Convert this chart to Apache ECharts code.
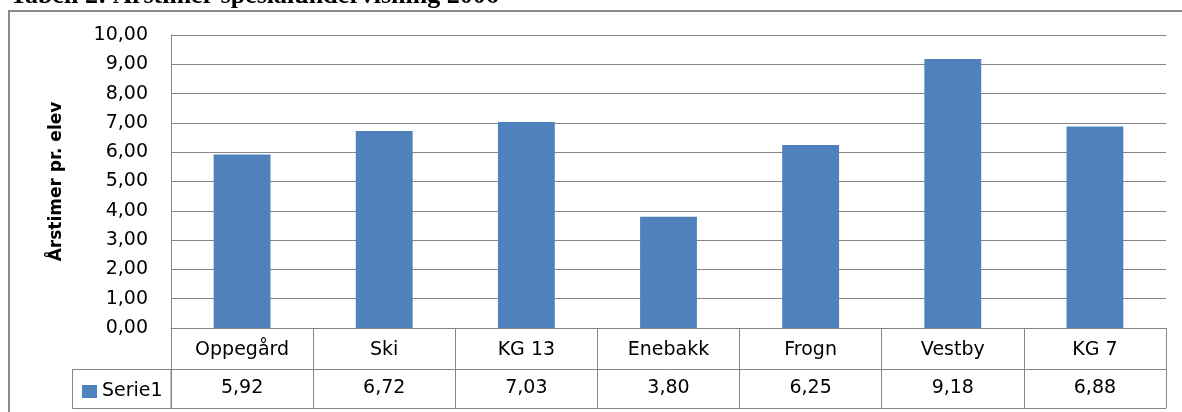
<!DOCTYPE html>
<html>
<head>
<meta charset="utf-8">
<script src="https://cdn.jsdelivr.net/npm/echarts@6/dist/echarts.min.js"></script>
<style>
  html, body { margin: 0; padding: 0; background: #fff; }
  #main { width: 1182px; height: 412px; }
</style>
</head>
<body>
<div id="main"></div>
<script>
var categories = ['Oppegård', 'Ski', 'KG 13', 'Enebakk', 'Frogn', 'Vestby', 'KG 7'];
var values = [5.92, 6.72, 7.03, 3.80, 6.25, 9.18, 6.88];
var seriesName = 'Serie1';
var yMin = 0;
var yMax = 10;
var yStep = 1;

function comma(v) {
    return v.toFixed(2).replace('.', ',');
}

var valueLabels = values.map(comma);

var chart = echarts.init(document.getElementById('main'));

var gridLine = '#868686';
var font = '"DejaVu Sans", sans-serif';

var option = {
    animation: false,
    backgroundColor: '#fff',
    grid: {
        left: 171,
        right: 16,
        top: 35,
        bottom: 84
    },
    legend: {
        data: [seriesName],
        left: 77,
        top: 377,
        icon: 'rect',
        itemWidth: 15,
        itemHeight: 13,
        textStyle: { fontFamily: font, fontSize: 19, color: '#000' }
    },
    xAxis: [{
        type: 'category',
        data: categories,
        position: 'bottom',
        axisLine: { show: true, lineStyle: { color: gridLine, width: 1 } },
        axisTick: { show: true, length: 80, alignWithLabel: false, interval: 0, lineStyle: { color: gridLine } },
        axisLabel: { interval: 0, margin: 13, fontFamily: font, fontSize: 19, color: '#000' }
    }, {
        type: 'category',
        data: valueLabels,
        position: 'bottom',
        offset: 41,
        axisLine: { show: true, lineStyle: { color: gridLine, width: 1 } },
        axisTick: { show: false },
        axisLabel: { interval: 0, margin: 10, fontFamily: font, fontSize: 19, color: '#000' }
    }, {
        type: 'category',
        data: categories,
        position: 'bottom',
        offset: 80,
        axisLine: { show: true, lineStyle: { color: gridLine, width: 1 } },
        axisTick: { show: false },
        axisLabel: { show: false }
    }],
    yAxis: {
        type: 'value',
        min: yMin,
        max: yMax,
        interval: yStep,
        name: 'Årstimer pr. elev',
        nameLocation: 'middle',
        nameRotate: 90,
        nameGap: 106,
        nameTextStyle: { fontFamily: font, fontSize: 17, fontWeight: 'bold', color: '#000' },
        axisLine: { show: true, lineStyle: { color: gridLine, width: 1 } },
        axisTick: { show: false },
        splitLine: { show: true, lineStyle: { color: gridLine, width: 1 } },
        axisLabel: {
            margin: 23,
            fontFamily: font,
            fontSize: 19,
            color: '#000',
            formatter: function (v) { return comma(v); }
        }
    },
    series: [{
        name: seriesName,
        type: 'bar',
        data: values,
        barWidth: '40%',
        itemStyle: { color: '#4f81bd' }
    }],
    graphic: [{
        // page caption, cut off at the top of the picture
        type: 'text',
        left: 10,
        top: -17,
        style: {
            text: 'Tabell 2: Årstimer spesialundervisning 2006',
            font: 'bold 26px "Liberation Serif", serif',
            fill: '#000'
        }
    }, {
        // outer chart frame
        type: 'rect',
        shape: { x: 9, y: 11, width: 1200, height: 500 },
        style: { fill: 'none', stroke: '#8a8a8a', lineWidth: 2 },
        silent: true
    }, {
        // legend cell of the data table
        type: 'rect',
        shape: { x: 72.5, y: 369.5, width: 98.5, height: 39 },
        style: { fill: 'none', stroke: gridLine, lineWidth: 1 },
        silent: true
    }]
};

chart.setOption(option);
</script>
</body>
</html>
